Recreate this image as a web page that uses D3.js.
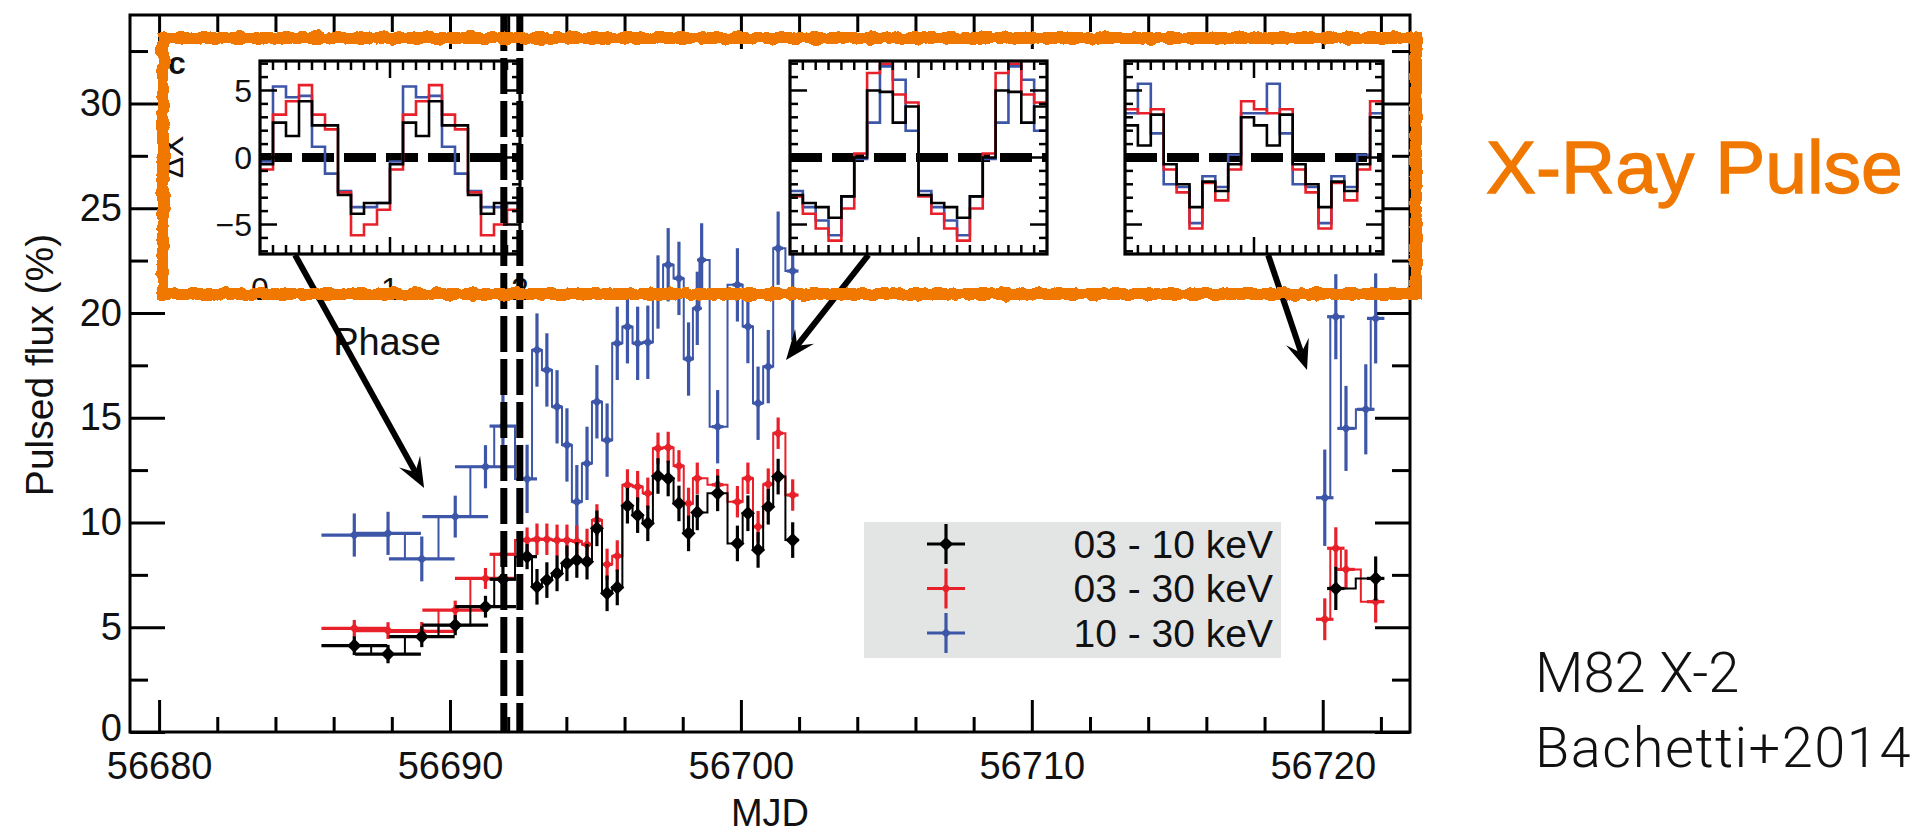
<!DOCTYPE html>
<html>
<head>
<meta charset="utf-8">
<script src="https://cdn.jsdelivr.net/npm/d3@7"></script>
<style>
  body { margin: 0; background: #fff; }
  svg { display: block; }
  text { font-family: "Liberation Sans", Arial, sans-serif; fill: #111; }
</style>
</head>
<body>
<svg id="chart" width="1930" height="836"></svg>
<script>
// observation times (MJD) and bin half-widths
var mjd = [56686.71, 56687.87, 56689.03, 56690.18, 56691.22, 56691.82, 56692.65,
    56692.99, 56693.33, 56693.68, 56694.02, 56694.36, 56694.71, 56695.05, 56695.40,
    56695.75, 56696.10, 56696.45, 56696.80, 56697.15, 56697.50, 56697.87, 56698.20,
    56698.50, 56698.65, 56699.20, 56699.88, 56700.24, 56700.59, 56700.94, 56701.28,
    56701.78, 56720.07, 56720.45, 56720.80, 56721.48, 56721.82];
var mjdErr = [1.13, 1.13, 1.13, 1.13, 1.05, 0.46, 0.34,
    0.17, 0.17, 0.17, 0.17, 0.17, 0.17, 0.17, 0.17, 0.17, 0.17, 0.17, 0.17, 0.17,
    0.17, 0.17, 0.17, 0.15, 0.15, 0.2, 0.17, 0.17, 0.17, 0.17, 0.17, 0.2,
    0.3, 0.3, 0.3, 0.3, 0.3];

// pulsed flux (%) per band, null where no point is visible
var flux0310 = [4.12, 3.72, 4.55, 5.10, 5.98, 7.29, 8.37, 6.93, 7.25, 7.57, 8.05, 8.21,
    8.13, 9.72, 6.62, 6.90, 10.80, 10.35, 9.96, 12.22, 12.10, 10.91, 9.48, 10.48, null,
    11.39, 9.00, 10.44, 8.69, 10.75, 12.19, 9.16, null, 6.85, null, null, 7.33];
var err0310 = [0.45, 0.44, 0.5, 0.48, 0.52, 0.6, 0.6, 0.85, 0.85, 0.85, 0.85, 0.85,
    0.85, 0.85, 0.85, 0.85, 0.85, 0.85, 0.85, 0.85, 0.85, 0.85, 0.85, 0.85, 0.85,
    0.85, 0.85, 0.85, 0.85, 0.85, 0.85, 0.85, 1.0, 1.03, 1.0, 1.0, 1.05];
var flux0330 = [4.95, 4.84, 4.80, 5.82, 7.33, 8.48, 9.16, 9.20, 9.20, 9.15, 9.15, 9.10,
    8.95, 10.12, 8.00, 8.40, 11.79, 11.71, 11.39, 13.54, 13.58, 12.70, 10.91, 12.11, null,
    11.80, 10.99, 12.11, 9.80, 11.83, 14.26, 11.31, 5.38, 8.77, 7.76, null, 6.22];
var err0330 = [0.4, 0.4, 0.45, 0.45, 0.5, 0.55, 0.6, 0.75, 0.75, 0.75, 0.75, 0.75,
    0.75, 0.75, 0.75, 0.75, 0.75, 0.75, 0.75, 0.75, 0.75, 0.75, 0.75, 0.75, 0.75,
    0.75, 0.75, 0.75, 0.75, 0.75, 0.75, 0.75, 1.0, 1.0, 0.95, 1.0, 1.0];
var flux1030 = [9.40, 9.48, 8.26, 10.28, 12.66, 14.60, 12.08, 18.23, 17.28, 15.52, 13.70,
    10.99, 12.82, 15.76, 13.93, 18.55, 19.34, 18.55, 18.60, 21.0, 22.30, 21.65, 17.80,
    20.22, 22.53, 14.57, 21.34, 19.35, 15.69, 17.44, 23.09, 22.0, 11.18, 19.82, 14.49,
    15.40, 19.74];
var err1030 = [1.03, 1.03, 1.07, 1.0, 1.03, 1.55, 1.63, 1.75, 1.75, 1.75, 1.75, 1.75,
    1.75, 1.75, 1.75, 1.75, 1.75, 1.75, 1.75, 1.75, 1.75, 1.75, 1.75, 1.75, 1.75,
    1.75, 1.75, 1.75, 1.75, 1.75, 1.75, 3.3, 2.3, 2.03, 2.03, 2.15, 2.15];

var xTicks = [56680, 56690, 56700, 56710, 56720];
var yTicks = [0, 5, 10, 15, 20, 25, 30];
var eventMjd = [56691.85, 56692.40];

// pulse profiles (10 phase bins, shown twice)
var pulse1_0310 = [-0.5, 2.6, 1.6, 4.2, 2.4, 2.4, -2.8, -4.2, -3.4, -3.4];
var pulse1_0330 = [-0.9, 3.2, 4.2, 5.4, 3.2, 2.1, -2.6, -5.8, -5.0, -3.9];
var pulse1_1030 = [-0.3, 5.3, 4.5, 4.6, 0.8, -1.2, -2.5, -3.7, -3.7, -3.4];
var pulse2_0310 = [-2.8, -3.4, -3.7, -4.5, -2.9, 0.0, 5.0, 4.9, 2.6, 3.8];
var pulse2_0330 = [-2.9, -4.2, -5.3, -6.2, -3.8, 0.3, 6.3, 7.0, 4.7, 4.1];
var pulse2_1030 = [-2.5, -3.7, -4.7, -5.8, -2.9, -0.1, 2.6, 6.8, 5.8, 2.0];
var pulse3_0310 = [2.4, 0.9, 3.2, -0.5, -2.0, -3.7, -1.8, -2.5, -0.5, 3.0];
var pulse3_0330 = [3.6, 3.3, 3.6, -0.9, -2.6, -5.3, -1.9, -3.2, -0.9, 4.2];
var pulse3_1030 = [3.3, 5.5, 1.8, -2.0, -2.2, -4.9, -1.4, -2.2, 0.2, 3.3];

// where the arrows from each inset point to (MJD, flux) and leave the inset (phase)
var arrowTips = [[56689.11, 11.65], [56701.55, 17.76], [56719.46, 17.28]];
var arrowStartPhase = [0.27, 0.61, 1.11];

var BLUE = '#3d56a8', RED = '#e8202a', ORANGE = '#f07800';

var svg = d3.select('#chart');
var x = d3.scaleLinear().domain([56679, 56723]).range([130, 1410]);
var y = d3.scaleLinear().domain([0, 34.22]).range([732, 15]);

// rough, hand-drawn look for the highlight box
var filt = svg.append('defs').append('filter').attr('id', 'rough')
    .attr('x', '-3%').attr('y', '-10%').attr('width', '106%').attr('height', '120%');
filt.append('feTurbulence').attr('type', 'fractalNoise').attr('baseFrequency', 0.09)
    .attr('numOctaves', 3).attr('seed', 4).attr('result', 'noise');
filt.append('feDisplacementMap').attr('in', 'SourceGraphic').attr('in2', 'noise')
    .attr('scale', 7).attr('xChannelSelector', 'R').attr('yChannelSelector', 'G');

function axisStyle(g) {
    g.select('.domain').remove();
    g.selectAll('line').attr('stroke', '#000').attr('stroke-width', 3);
    g.selectAll('text').attr('font-size', 38).style('fill', '#111');
}

var xMinor = d3.range(56680, 56723, 2).filter(function(d){ return (d % 10) !== 0; });
var yMinor = d3.range(0, 34, 2.5).filter(function(d){ return (d % 5) !== 0; });

svg.append('g').attr('transform', 'translate(0,732)')
    .call(d3.axisBottom(x).tickValues(xMinor).tickSize(-15).tickFormat('')).call(axisStyle);
svg.append('g').attr('transform', 'translate(0,732)')
    .call(d3.axisBottom(x).tickValues(xTicks).tickSize(-32).tickPadding(20).tickFormat(d3.format('d')))
    .call(axisStyle);
svg.append('g').attr('transform', 'translate(0,15)')
    .call(d3.axisTop(x).tickValues(xMinor).tickSize(-17).tickFormat('')).call(axisStyle);
svg.append('g').attr('transform', 'translate(0,15)')
    .call(d3.axisTop(x).tickValues(xTicks).tickSize(-34).tickFormat('')).call(axisStyle);
svg.append('g').attr('transform', 'translate(130,0)')
    .call(d3.axisLeft(y).tickValues(yMinor).tickSize(-18).tickFormat('')).call(axisStyle);
svg.append('g').attr('transform', 'translate(130,0)')
    .call(d3.axisLeft(y).tickValues(yTicks).tickSize(-35).tickPadding(8)).call(axisStyle)
    .selectAll('text').filter(function(d){ return d === 0; }).attr('dy', '0.22em');
svg.append('g').attr('transform', 'translate(1410,0)')
    .call(d3.axisRight(y).tickValues(yMinor).tickSize(-18).tickFormat('')).call(axisStyle);
svg.append('g').attr('transform', 'translate(1410,0)')
    .call(d3.axisRight(y).tickValues(yTicks).tickSize(-35).tickFormat('')).call(axisStyle);

svg.append('rect').attr('x', 130).attr('y', 15).attr('width', 1280).attr('height', 717)
    .attr('fill', 'none').attr('stroke', '#000').attr('stroke-width', 3);

svg.append('text').attr('x', 770).attr('y', 826).attr('text-anchor', 'middle')
    .attr('font-size', 38).text('MJD');
svg.append('text').attr('transform', 'translate(53,365) rotate(-90)')
    .attr('text-anchor', 'middle').attr('font-size', 39).text('Pulsed flux (%)');

// data
svg.append('clipPath').attr('id', 'plotclip').append('rect')
    .attr('x', 130).attr('y', 15).attr('width', 1280).attr('height', 717);
var plot = svg.append('g').attr('clip-path', 'url(#plotclip)');

var bands = [
    {color: BLUE, v: flux1030, e: err1030, m: 7},
    {color: RED, v: flux0330, e: err0330, m: 7},
    {color: '#000', v: flux0310, e: err0310, m: 10}
];

var step = d3.line().x(function(d){ return x(d.t); }).y(function(d){ return y(d.v); })
    .curve(d3.curveStep);

bands.forEach(function(b) {
    var pts = mjd.map(function(t, i) {
        return {t: t, xe: mjdErr[i], v: b.v[i], e: b.e[i]};
    }).filter(function(d){ return d.v != null; });
    var segs = [], cur = [];
    pts.forEach(function(d, k) {
        if (k > 0 && d.t - pts[k - 1].t > 5) { segs.push(cur); cur = []; }
        cur.push(d);
    });
    segs.push(cur);

    var g = plot.append('g');
    g.selectAll('path.step').data(segs).enter().append('path')
        .attr('d', step).attr('fill', 'none').attr('stroke', b.color).attr('stroke-width', 2);
    g.selectAll('line.xe').data(pts).enter().append('line')
        .attr('x1', function(d){ return x(d.t - d.xe); })
        .attr('x2', function(d){ return x(d.t + d.xe); })
        .attr('y1', function(d){ return y(d.v); })
        .attr('y2', function(d){ return y(d.v); })
        .attr('stroke', b.color).attr('stroke-width', 3.2);
    g.selectAll('line.ye').data(pts).enter().append('line')
        .attr('x1', function(d){ return x(d.t); })
        .attr('x2', function(d){ return x(d.t); })
        .attr('y1', function(d){ return y(d.v - d.e); })
        .attr('y2', function(d){ return y(d.v + d.e); })
        .attr('stroke', b.color).attr('stroke-width', 3.2);
    g.selectAll('rect.mk').data(pts).enter().append('rect')
        .attr('x', -b.m / 2).attr('y', -b.m / 2).attr('width', b.m).attr('height', b.m)
        .attr('transform', function(d){ return 'translate(' + x(d.t) + ',' + y(d.v) + ') rotate(45)'; })
        .attr('fill', b.color);
});

// legend
var legend = svg.append('g');
legend.append('rect').attr('x', 864).attr('y', 522).attr('width', 417).attr('height', 136)
    .attr('fill', '#e3e5e4');
var legendItems = [
    {label: '03 - 10 keV', color: '#000', m: 10},
    {label: '03 - 30 keV', color: RED, m: 7},
    {label: '10 - 30 keV', color: BLUE, m: 7}
];
legendItems.forEach(function(it, i) {
    var cy = 544 + i * 44.5;
    legend.append('line').attr('x1', 927).attr('x2', 965).attr('y1', cy).attr('y2', cy)
        .attr('stroke', it.color).attr('stroke-width', 3.2);
    legend.append('line').attr('x1', 946).attr('x2', 946).attr('y1', cy - 20).attr('y2', cy + 20)
        .attr('stroke', it.color).attr('stroke-width', 3.2);
    legend.append('rect').attr('x', -it.m / 2).attr('y', -it.m / 2).attr('width', it.m).attr('height', it.m)
        .attr('transform', 'translate(946,' + cy + ') rotate(45)').attr('fill', it.color);
    legend.append('text').attr('x', 1273).attr('y', cy).attr('dy', '0.35em')
        .attr('text-anchor', 'end').attr('font-size', 39).text(it.label);
});

// insets
var insets = [
    {x0: 260, x1: 520, prof: [pulse1_1030, pulse1_0330, pulse1_0310], labels: true},
    {x0: 790, x1: 1047, prof: [pulse2_1030, pulse2_0330, pulse2_0310], labels: false},
    {x0: 1125, x1: 1383, prof: [pulse3_1030, pulse3_0330, pulse3_0310], labels: false}
];
var insetTop = 61, insetBottom = 254;
var iy = d3.scaleLinear().domain([-7.2, 7.2]).range([insetBottom, insetTop]);
var profColors = [BLUE, RED, '#000'];

insets.forEach(function(ins, k) {
    var ix = d3.scaleLinear().domain([0, 2]).range([ins.x0, ins.x1]);
    ins.ix = ix;
    var g = svg.append('g');
    g.append('rect').attr('x', ins.x0).attr('y', insetTop).attr('width', ins.x1 - ins.x0)
        .attr('height', insetBottom - insetTop).attr('fill', '#fff');

    g.append('line').attr('x1', ins.x0).attr('x2', ins.x1).attr('y1', iy(0)).attr('y2', iy(0))
        .attr('stroke', '#000').attr('stroke-width', 9).attr('stroke-dasharray', '32 10');

    var pline = d3.line().x(function(d){ return ix(d[0]); }).y(function(d){ return iy(d[1]); })
        .curve(d3.curveStepAfter);
    ins.prof.forEach(function(p, j) {
        var vals = p.concat(p);
        var pts = vals.map(function(v, i){ return [i * 0.1, v]; });
        pts.push([2, vals[vals.length - 1]]);
        g.append('path').attr('d', pline(pts)).attr('fill', 'none')
            .attr('stroke', profColors[j]).attr('stroke-width', 2.6);
    });

    var phMinor = d3.range(0.1, 2, 0.1).filter(function(d){ return Math.abs(d - 1) > 0.01; });
    [insetTop, insetBottom].forEach(function(yy, s) {
        var dir = s === 0 ? 1 : -1;
        g.selectAll(null).data(phMinor).enter().append('line')
            .attr('x1', ix).attr('x2', ix).attr('y1', yy).attr('y2', yy + dir * 9)
            .attr('stroke', '#000').attr('stroke-width', 2.5);
        g.selectAll(null).data([1]).enter().append('line')
            .attr('x1', ix).attr('x2', ix).attr('y1', yy).attr('y2', yy + dir * 17)
            .attr('stroke', '#000').attr('stroke-width', 2.5);
    });
    var dMinor = d3.range(-7, 8, 1).filter(function(d){ return d % 5 !== 0; });
    [ins.x0, ins.x1].forEach(function(xx, s) {
        var dir = s === 0 ? 1 : -1;
        g.selectAll(null).data(dMinor).enter().append('line')
            .attr('y1', iy).attr('y2', iy).attr('x1', xx).attr('x2', xx + dir * 8)
            .attr('stroke', '#000').attr('stroke-width', 2.5);
        g.selectAll(null).data([-5, 0, 5]).enter().append('line')
            .attr('y1', iy).attr('y2', iy).attr('x1', xx).attr('x2', xx + dir * 17)
            .attr('stroke', '#000').attr('stroke-width', 2.5);
    });
    g.append('rect').attr('x', ins.x0).attr('y', insetTop).attr('width', ins.x1 - ins.x0)
        .attr('height', insetBottom - insetTop).attr('fill', 'none')
        .attr('stroke', '#000').attr('stroke-width', 3.2);

    if (ins.labels) {
        g.selectAll(null).data([5, 0, -5]).enter().append('text')
            .attr('x', ins.x0 - 8).attr('y', iy).attr('dy', '0.35em').attr('text-anchor', 'end')
            .attr('font-size', 32).text(function(d){ return d < 0 ? '\u2212' + (-d) : d; });
        g.selectAll(null).data([0, 1, 2]).enter().append('text')
            .attr('x', ix).attr('y', 300).attr('text-anchor', 'middle')
            .attr('font-size', 32).text(function(d){ return d; });
        g.append('text').attr('x', 387).attr('y', 355).attr('text-anchor', 'middle')
            .attr('font-size', 38).text('Phase');
        g.append('text').attr('transform', 'translate(183,157) rotate(-90)')
            .attr('text-anchor', 'middle').attr('font-size', 32).text('\u0394X');
        g.append('text').attr('x', 168).attr('y', 74).attr('font-size', 32)
            .attr('font-weight', 'bold').text('c');
    }
});

// event lines
svg.selectAll('line.event').data(eventMjd).enter().append('line')
    .attr('x1', x).attr('x2', x).attr('y1', 15).attr('y2', 732)
    .attr('stroke', '#000').attr('stroke-width', 7).attr('stroke-dasharray', '36 7');

// arrows
arrowTips.forEach(function(tip, k) {
    var ins = insets[k];
    var sx = ins.ix(arrowStartPhase[k]), sy = insetBottom + 1;
    var tx = x(tip[0]), ty = y(tip[1]);
    var dx = tx - sx, dy = ty - sy, len = Math.sqrt(dx * dx + dy * dy);
    var ux = dx / len, uy = dy / len, nx = -uy, ny = ux;
    var L = 30, Wd = 12, N = 18;
    svg.append('line').attr('x1', sx).attr('y1', sy)
        .attr('x2', tx - ux * N).attr('y2', ty - uy * N)
        .attr('stroke', '#000').attr('stroke-width', 6);
    var head = [[tx, ty], [tx - ux * L + nx * Wd, ty - uy * L + ny * Wd],
        [tx - ux * N, ty - uy * N], [tx - ux * L - nx * Wd, ty - uy * L - ny * Wd]];
    svg.append('path').attr('d', 'M' + head.join('L') + 'Z').attr('fill', '#000');
});

// orange highlight box
var hl = svg.append('g').attr('filter', 'url(#rough)');
hl.append('rect').attr('x', 163).attr('y', 38).attr('width', 1253).attr('height', 256)
    .attr('fill', 'none').attr('stroke', ORANGE).attr('stroke-width', 12);
hl.append('rect').attr('x', 161).attr('y', 36).attr('width', 1257).attr('height', 259)
    .attr('fill', 'none').attr('stroke', ORANGE).attr('stroke-width', 5).attr('opacity', 0.8);

svg.append('text').attr('x', 1486).attr('y', 193).attr('font-size', 75)
    .style('fill', ORANGE).style('stroke', ORANGE).style('stroke-width', 1.3)
    .text('X-Ray Pulse');
svg.append('text').attr('x', 1535).attr('y', 692).attr('font-size', 56)
    .style('font-family', 'Roboto, "Noto Sans", sans-serif').attr('font-weight', 300)
    .text('M82 X-2');
svg.append('text').attr('x', 1535).attr('y', 767).attr('font-size', 56)
    .style('font-family', 'Roboto, "Noto Sans", sans-serif').attr('font-weight', 300)
    .attr('letter-spacing', 1.5).text('Bachetti+2014');
</script>
</body>
</html>
